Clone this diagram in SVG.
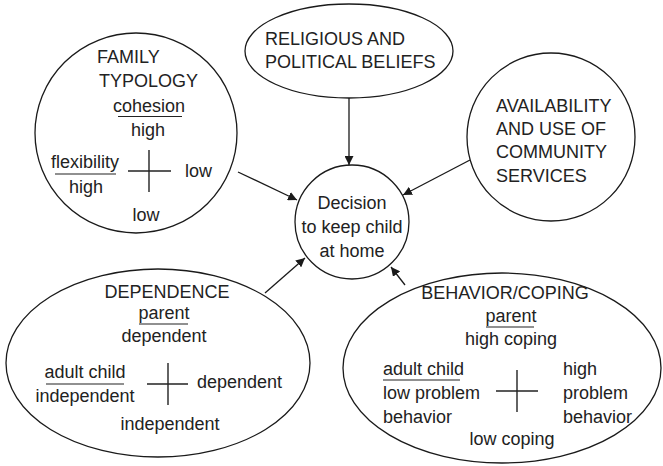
<svg xmlns="http://www.w3.org/2000/svg" width="663" height="466" viewBox="0 0 663 466">
<style>
.n{fill:#fff;stroke:#1a1a1a;stroke-width:1.3}
.t{font-family:"Liberation Sans",Arial,sans-serif;font-size:18px;fill:#222}
.m{text-anchor:middle}
.u{stroke:#222;stroke-width:1.2;fill:none}
.c{stroke:#222;stroke-width:1.4;fill:none}
.e{stroke:#1a1a1a;stroke-width:1.3;fill:none;marker-end:url(#ah)}
</style>
<defs>
<marker id="ah" viewBox="0 0 10 10" refX="10" refY="5" markerWidth="9" markerHeight="9" markerUnits="userSpaceOnUse" orient="auto">
<path d="M0,0 L10,5 L0,10 z" fill="#1a1a1a"/>
</marker>
</defs>
<rect width="663" height="466" fill="#fff"/>
<g id="connectors">
<line class="e" x1="238" y1="172" x2="297" y2="200"/>
<line class="e" x1="349" y1="98" x2="349" y2="165"/>
<line class="e" x1="470" y1="160" x2="403" y2="195"/>
<line class="e" x1="265" y1="293" x2="305" y2="258"/>
<line class="e" x1="405" y1="285" x2="391" y2="267"/>
</g>
<g id="family">
<ellipse class="n" cx="136" cy="133" rx="101" ry="100"/>
<text class="t" x="97" y="63">FAMILY</text>
<text class="t" x="99" y="87">TYPOLOGY</text>
<text class="t m" x="149" y="112">cohesion</text>
<line class="u" x1="118" y1="116.5" x2="182" y2="116.5"/>
<text class="t m" x="148" y="136">high</text>
<text class="t m" x="85" y="168">flexibility</text>
<line class="u" x1="55" y1="174" x2="116" y2="174"/>
<text class="t m" x="86" y="193">high</text>
<line class="c" x1="149" y1="150" x2="149" y2="192"/>
<line class="c" x1="128" y1="171" x2="171" y2="171"/>
<text class="t" x="185" y="177">low</text>
<text class="t m" x="146" y="221">low</text>
</g>
<g id="religious">
<ellipse class="n" cx="349" cy="51" rx="104" ry="47"/>
<text class="t" x="265" y="45">RELIGIOUS AND</text>
<text class="t" x="265" y="68">POLITICAL BELIEFS</text>
</g>
<g id="availability">
<ellipse class="n" cx="551" cy="137" rx="84" ry="84"/>
<text class="t" x="496" y="112">AVAILABILITY</text>
<text class="t" x="496" y="135">AND USE OF</text>
<text class="t" x="496" y="158">COMMUNITY</text>
<text class="t" x="496" y="182">SERVICES</text>
</g>
<g id="decision">
<ellipse class="n" cx="352" cy="222" rx="57" ry="57"/>
<text class="t m" x="352" y="209">Decision</text>
<text class="t m" x="352" y="233">to keep child</text>
<text class="t m" x="352" y="257">at home</text>
</g>
<g id="dependence">
<ellipse class="n" cx="158" cy="363" rx="152" ry="94"/>
<text class="t m" x="167" y="298">DEPENDENCE</text>
<text class="t m" x="164" y="319">parent</text>
<line class="u" x1="139" y1="324" x2="188" y2="324"/>
<text class="t m" x="164" y="342">dependent</text>
<text class="t m" x="85" y="378">adult child</text>
<line class="u" x1="46" y1="384" x2="124" y2="384"/>
<text class="t m" x="85" y="402">independent</text>
<line class="c" x1="168" y1="363" x2="168" y2="405"/>
<line class="c" x1="147" y1="384" x2="188" y2="384"/>
<text class="t" x="197" y="388">dependent</text>
<text class="t m" x="170" y="430">independent</text>
</g>
<g id="behavior">
<ellipse class="n" cx="502" cy="368" rx="159" ry="95"/>
<text class="t m" x="505" y="299">BEHAVIOR/COPING</text>
<text class="t m" x="511" y="322">parent</text>
<line class="u" x1="486" y1="327" x2="534" y2="327"/>
<text class="t m" x="511" y="345">high coping</text>
<text class="t" x="383" y="375">adult child</text>
<line class="u" x1="383" y1="380" x2="460" y2="380"/>
<text class="t" x="383" y="399">low problem</text>
<text class="t" x="383" y="423">behavior</text>
<line class="c" x1="517" y1="370" x2="517" y2="412"/>
<line class="c" x1="496" y1="391" x2="538" y2="391"/>
<text class="t" x="563" y="375">high</text>
<text class="t" x="563" y="399">problem</text>
<text class="t" x="563" y="423">behavior</text>
<text class="t m" x="512" y="445">low coping</text>
</g>
</svg>
